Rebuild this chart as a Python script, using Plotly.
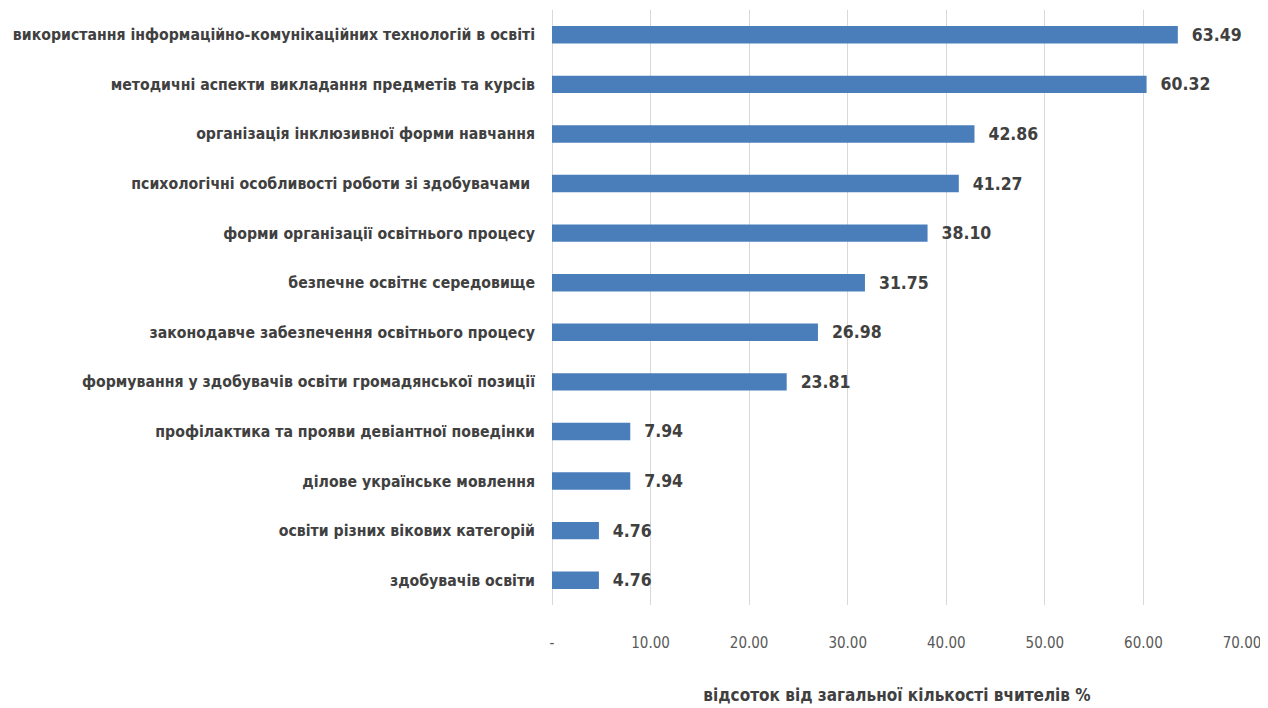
import plotly.graph_objects as go

categories = [
    "використання інформаційно-комунікаційних технологій в освіті",
    "методичні аспекти викладання предметів та курсів",
    "організація інклюзивної форми навчання",
    "психологічні особливості роботи зі здобувачами ",
    "форми організації освітнього процесу",
    "безпечне освітнє середовище",
    "законодавче забезпечення освітнього процесу",
    "формування у здобувачів освіти громадянської позиції",
    "профілактика та прояви девіантної поведінки",
    "ділове українське мовлення",
    "освіти різних вікових категорій",
    "здобувачів освіти",
]
values = [63.49, 60.32, 42.86, 41.27, 38.10, 31.75, 26.98, 23.81, 7.94, 7.94, 4.76, 4.76]
tick_vals = [0, 10, 20, 30, 40, 50, 60, 70]
tick_text = ["-", "10.00", "20.00", "30.00", "40.00", "50.00", "60.00", "70.00"]
x_title = "відсоток від загальної кількості вчителів %"

FONT = "DejaVu Sans Condensed, Liberation Sans, sans-serif"

fig = go.Figure(go.Bar(
    x=values,
    y=categories,
    orientation="h",
    marker=dict(color="#4a7ebb", line=dict(width=0)),
    text=[f"\u00a0\u00a0{v:.2f}" for v in values],
    textposition="outside",
    constraintext="none",
    cliponaxis=False,
    textfont=dict(family=FONT, size=17.5, color="#404040", weight="bold"),
))

fig.update_layout(
    width=1268, height=708,
    margin=dict(l=544, r=34, t=2, b=111, autoexpand=False),
    paper_bgcolor="white", plot_bgcolor="white",
    bargap=0.65,
    showlegend=False,
    font=dict(family=FONT),
)
fig.update_yaxes(
    autorange="reversed", automargin=False,
    tickfont=dict(family=FONT, size=15.7, color="#404040", weight="bold"),
    ticks="", ticklabelstandoff=16,
    showgrid=False, showline=False,
)
fig.update_xaxes(
    range=[0, 70], automargin=False,
    tickvals=tick_vals, ticktext=tick_text,
    tickfont=dict(family=FONT, size=15, color="#595959"),
    showgrid=True, gridcolor="#d9d9d9", gridwidth=1,
    zeroline=True, zerolinecolor="#d9d9d9", zerolinewidth=1,
    showline=False, ticks="", ticklabelstandoff=27,
    title=dict(text=x_title, font=dict(family=FONT, size=17, color="#404040", weight="bold"), standoff=38),
)

fig.write_html("out.html")
